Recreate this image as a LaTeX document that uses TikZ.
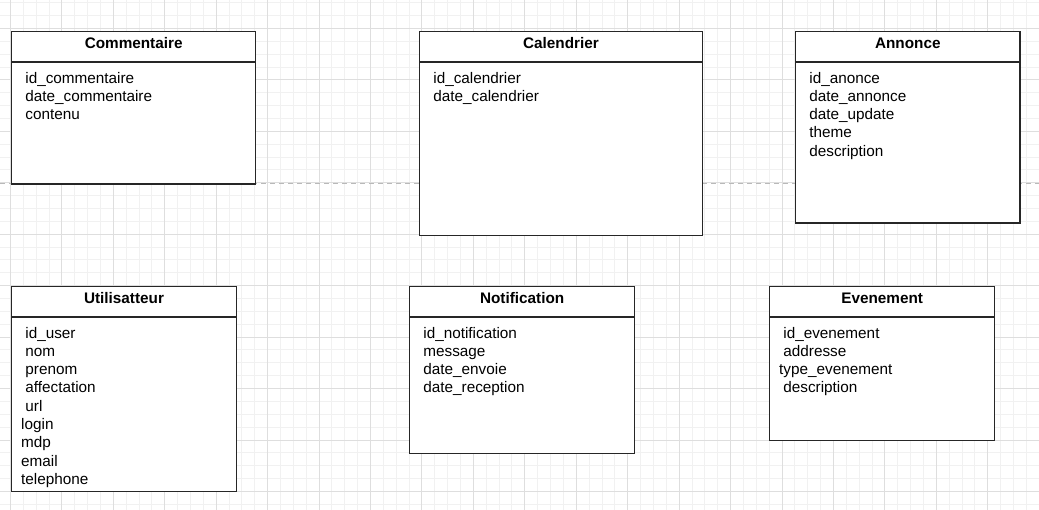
\documentclass[tikz,border=0pt]{standalone}
\usepackage{fontspec}
\setmainfont{Liberation Sans}
\usetikzlibrary{positioning}
\definecolor{gridminor}{HTML}{F1F1F1}
\definecolor{gridmajor}{HTML}{DEDEDE}
% lines that start without the leading blank
\newcommand{\lft}{\hspace*{-4.2pt}}
\tikzset{
    %Define style for class boxes
    classbox/.style={
           rectangle,
           draw=black!85, line width=1.3pt,
           fill=white,
           inner sep=0pt},
    %Define style for class names
    classname/.style={
           anchor=base,
           font=\fontsize{15.3pt}{18.3pt}\selectfont\bfseries},
    %Define style for attribute lists
    attrs/.style={
           align=left,
           inner sep=0pt,
           font=\fontsize{15.3pt}{18.3pt}\selectfont,
           execute at begin node=\strut},
    % Define separator and dashed guide line
    sep/.style={draw=black!85, line width=1.3pt},
    guide/.style={draw=gray!55, line width=1.3pt, dash pattern=on 5pt off 4pt}
}
\begin{document}
\begin{tikzpicture}[x=1pt,y=-1pt]
\useasboundingbox[fill=white] (0,0) rectangle (1039,510);
% grid
\foreach \k in {-1,...,80}
  \draw[gridminor, line width=1pt] (10.45+12.86*\k,0) -- (10.45+12.86*\k,510);
\foreach \k in {-2,...,37}
  \draw[gridminor, line width=1pt] (0,28.5+12.86*\k) -- (1039,28.5+12.86*\k);
\foreach \k in {0,...,20}
  \draw[gridmajor, line width=1pt] (10.45+51.44*\k,0) -- (10.45+51.44*\k,510);
\foreach \k in {0,...,9}
  \draw[gridmajor, line width=1pt] (0,28.5+51.44*\k) -- (1039,28.5+51.44*\k);

\coordinate (dl) at (0,183.2);
\coordinate (dr) at (1039,183.2);
\draw[guide] (dl) -- (dr);

% Commentaire
\node[classbox, anchor=north west, minimum width=244pt, minimum height=152.6pt] (1) at (11,30.7) {};
\node[classname] (t1) at ([yshift=-18.3pt]1.north) {Commentaire};
\coordinate (h1) at ([yshift=-31.3pt]1.north west);
\draw[sep] (h1) -- (h1 -| 1.east);
\node[attrs, below right=9.8pt and 14.2pt of h1] (a1) {id\_commentaire\\date\_commentaire\\contenu};

% Calendrier
\node[classbox, anchor=north west, minimum width=282.7pt, minimum height=204.3pt] (2) at (419,30.7) {};
\node[classname] (t2) at ([yshift=-18.3pt]2.north) {Calendrier};
\coordinate (h2) at ([yshift=-31.3pt]2.north west);
\draw[sep] (h2) -- (h2 -| 2.east);
\node[attrs, below right=9.8pt and 14.2pt of h2] (a2) {id\_calendrier\\date\_calendrier};

% Annonce
\node[classbox, anchor=north west, minimum width=224.3pt, minimum height=191.6pt] (3) at (795,30.7) {};
\node[classname] (t3) at ([yshift=-18.3pt]3.north) {Annonce};
\coordinate (h3) at ([yshift=-31.3pt]3.north west);
\draw[sep] (h3) -- (h3 -| 3.east);
\node[attrs, below right=9.8pt and 14.2pt of h3] (a3) {id\_anonce\\date\_annonce\\date\_update\\theme\\description};

% Utilisatteur
\node[classbox, anchor=north west, minimum width=224.7pt, minimum height=205.3pt] (4) at (11,285.7) {};
\node[classname] (t4) at ([yshift=-18.3pt]4.north) {Utilisatteur};
\coordinate (h4) at ([yshift=-31.3pt]4.north west);
\draw[sep] (h4) -- (h4 -| 4.east);
\node[attrs, below right=9.8pt and 14.2pt of h4] (a4) {id\_user\\nom\\prenom\\affectation\\url\\\lft login\\\lft mdp\\\lft email\\\lft telephone};

% Notification
\node[classbox, anchor=north west, minimum width=225pt, minimum height=167pt] (5) at (409,285.7) {};
\node[classname] (t5) at ([yshift=-18.3pt]5.north) {Notification};
\coordinate (h5) at ([yshift=-31.3pt]5.north west);
\draw[sep] (h5) -- (h5 -| 5.east);
\node[attrs, below right=9.8pt and 14.2pt of h5] (a5) {id\_notification\\message\\date\_envoie\\date\_reception};

% Evenement
\node[classbox, anchor=north west, minimum width=225pt, minimum height=154.3pt] (6) at (769,285.7) {};
\node[classname] (t6) at ([yshift=-18.3pt]6.north) {Evenement};
\coordinate (h6) at ([yshift=-31.3pt]6.north west);
\draw[sep] (h6) -- (h6 -| 6.east);
\node[attrs, below right=9.8pt and 14.2pt of h6] (a6) {id\_evenement\\addresse\\\lft type\_evenement\\description};
\end{tikzpicture}
\end{document}
